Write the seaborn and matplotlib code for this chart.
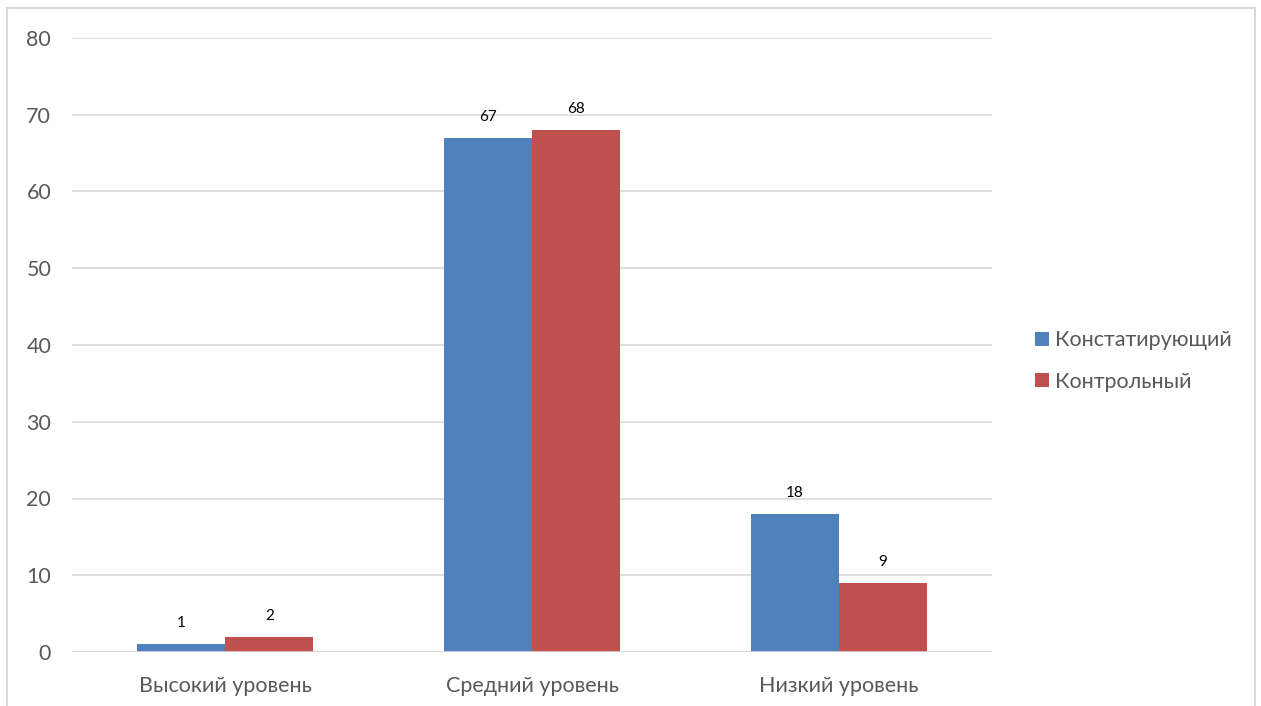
import pandas as pd
import matplotlib.pyplot as plt
import seaborn as sns
from matplotlib.patches import Rectangle, Patch

levels = ['Высокий уровень', 'Средний уровень', 'Низкий уровень']
series = ['Констатирующий', 'Контрольный']
konst = [1, 67, 18]
kontr = [2, 68, 9]
colors = ['#4F81BD', '#C0504D']

df = pd.DataFrame({
    'level': levels * 2,
    'series': [series[0]] * 3 + [series[1]] * 3,
    'value': konst + kontr,
})

sns.set_theme(style='white')
plt.rcParams['font.family'] = ['Lato', 'DejaVu Sans']

W, H = 1261, 706
fig = plt.figure(figsize=(W / 100, H / 100), dpi=100)
ax = fig.add_axes([72 / W, 1 - 652 / H, (992 - 72) / W, (652 - 38) / H])

sns.barplot(data=df, x='level', y='value', hue='series', palette=colors,
            width=0.574, ax=ax, legend=False, saturation=1, zorder=3,
            edgecolor='none')

for cont in ax.containers:
    ax.bar_label(cont, padding=10, fontsize=11, color='black')

ax.set_ylim(0, 80)
ax.set_xlim(-0.5, 2.5)
ax.set_yticks(range(0, 81, 10))
ax.yaxis.grid(True, color='#d9d9d9', linewidth=1.2, zorder=0)
for s in ax.spines.values():
    s.set_visible(False)
ax.axhline(0, color='#d9d9d9', linewidth=1.2, zorder=4)
ax.tick_params(axis='both', length=0, labelsize=15.5, labelcolor='#595959')
ax.tick_params(axis='y', pad=15)
ax.tick_params(axis='x', pad=17)
ax.set_xlabel('')
ax.set_ylabel('')

handles = [Patch(facecolor=c, edgecolor='none') for c in colors]
fig.legend(handles, series, loc='center left', bbox_to_anchor=(1016 / W, 1 - 361 / H),
           frameon=False, fontsize=15.5, labelcolor='#595959', handlelength=0.62,
           handleheight=0.62, handletextpad=0.3, labelspacing=1.0)

fig.patches.append(Rectangle((7 / W, -0.05), (1255 - 7) / W, 1.05 - 8 / H,
                             transform=fig.transFigure, fill=False,
                             edgecolor='#d9d9d9', linewidth=1.5))

fig.savefig('out.png', dpi=100)
